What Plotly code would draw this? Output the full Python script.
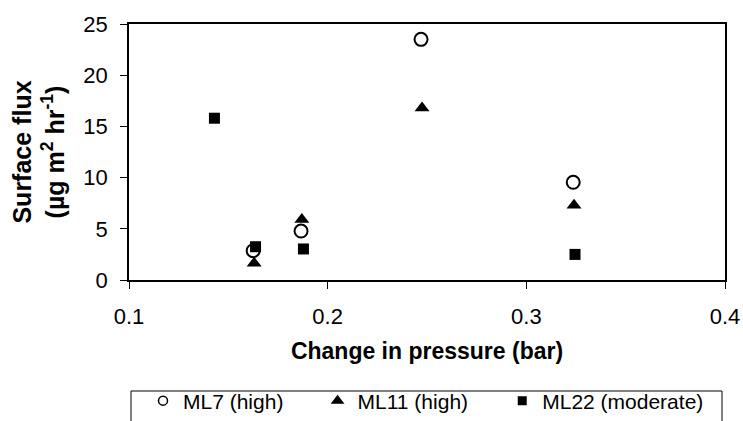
import plotly.graph_objects as go

# Surface flux versus change in pressure for three sites
ml7_x = [0.1625, 0.1866, 0.247, 0.3236]
ml7_y = [2.86, 4.78, 23.5, 9.54]

ml11_x = [0.163, 0.187, 0.2475, 0.324]
ml11_y = [1.63, 5.9, 16.8, 7.3]

ml22_x = [0.143, 0.1637, 0.1878, 0.3245]
ml22_y = [15.8, 3.25, 3.03, 2.5]

series_names = ["ML7 (high)", "ML11 (high)", "ML22 (moderate)"]

x_ticks = [0.1, 0.2, 0.3, 0.4]
x_tick_text = ["0.1", "0.2", "0.3", "0.4"]
y_ticks = [0, 5, 10, 15, 20, 25]

FONT = "Liberation Sans, Arial, sans-serif"
NBSP = "\u00a0"

styles = [
    dict(symbol="circle-open", size=13, color="black", line=dict(width=2, color="black")),
    dict(symbol="triangle-up", size=13, color="black"),
    dict(symbol="square", size=11, color="black"),
]
legend_styles = [
    dict(symbol="circle-open", size=9, color="black", line=dict(width=1.5, color="black")),
    dict(symbol="triangle-up", size=12, color="black"),
    dict(symbol="square", size=9, color="black"),
]
# trailing non-breaking spaces widen the first two legend entries
legend_pad = [5, 5, 0]

fig = go.Figure()
for xs, ys, name, st, lst, pad in zip(
    [ml7_x, ml11_x, ml22_x], [ml7_y, ml11_y, ml22_y], series_names, styles, legend_styles, legend_pad
):
    # data markers
    fig.add_trace(go.Scatter(x=xs, y=ys, mode="markers", name=name, marker=st,
                             showlegend=False, legendgroup=name))
    # smaller key symbol for the legend row
    fig.add_trace(go.Scatter(x=[None], y=[None], mode="markers", name=name + NBSP * pad,
                             marker=lst, showlegend=True, legendgroup=name))

axis_common = dict(
    showgrid=False, zeroline=False, showline=True, linecolor="black", linewidth=1.5,
    mirror=True, ticks="outside", ticklen=7, tickwidth=1, tickcolor="black",
    tickfont=dict(family=FONT, size=22, color="black"), automargin=False,
)

fig.update_layout(
    width=743, height=421,
    margin=dict(l=129, r=18, t=24, b=141),
    paper_bgcolor="white", plot_bgcolor="white",
    font=dict(family=FONT, color="black"),
    xaxis=dict(
        range=[0.1, 0.4], tickvals=x_ticks, ticktext=x_tick_text, ticklabelstandoff=9,
        title=dict(text="<b>Change in pressure (bar)</b>", font=dict(family=FONT, size=23), standoff=15),
        **axis_common,
    ),
    yaxis=dict(
        range=[0, 25], tickvals=y_ticks, ticklabelstandoff=8,
        title=dict(text="<b>Surface flux</b><br><b>(µg m<sup>2</sup> hr<sup>-1</sup>)</b>",
                   font=dict(family=FONT, size=25), standoff=12),
        **axis_common,
    ),
    legend=dict(
        orientation="h", xref="container", yref="container",
        x=143 / 743, xanchor="left", y=(421 - 401) / 421, yanchor="middle",
        font=dict(family=FONT, size=21, color="black"),
        bgcolor="rgba(0,0,0,0)", borderwidth=0,
    ),
    showlegend=True,
)

# Frame around the legend row
fig.add_shape(
    type="rect", xref="paper", yref="paper",
    x0=(131 - 129) / 596, x1=(722 - 129) / 596, y0=-0.56, y1=(280 - 391) / 256,
    line=dict(color="black", width=1), fillcolor="rgba(0,0,0,0)",
)

fig.write_html("out.html")
